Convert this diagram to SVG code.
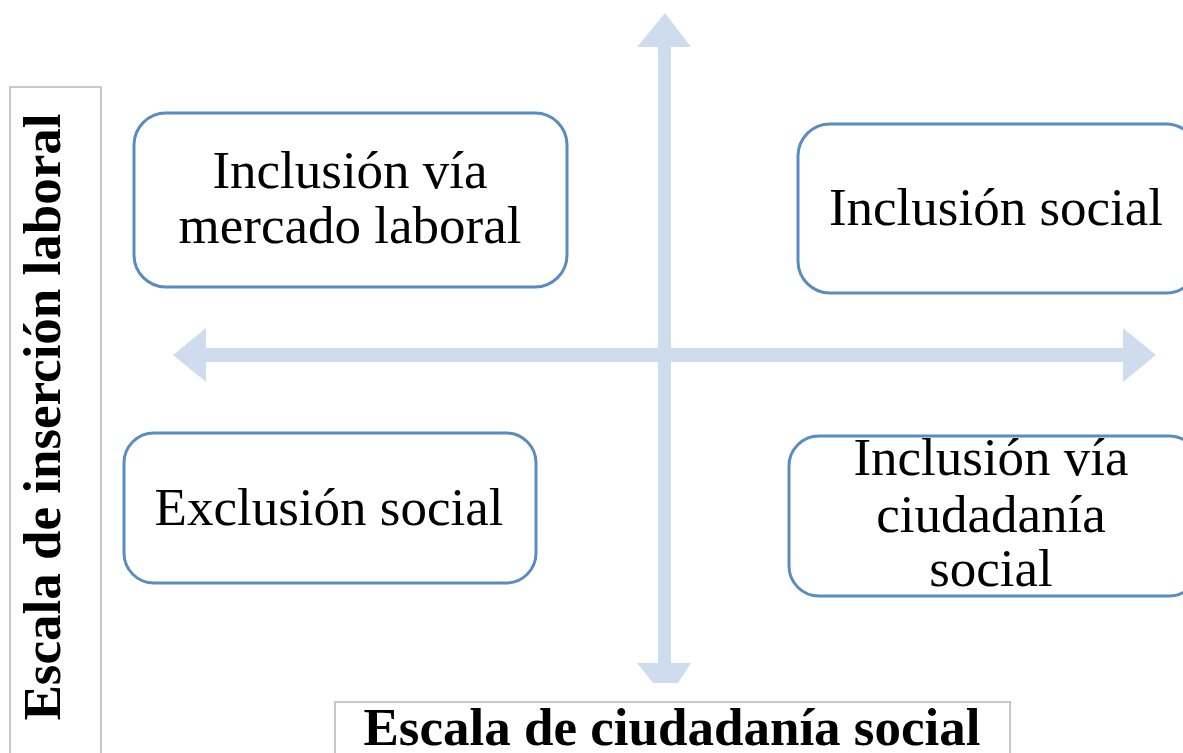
<svg xmlns="http://www.w3.org/2000/svg" width="1183" height="753" viewBox="0 0 1183 753">
<style>
.box{fill:#fff;stroke:#5a8cc4;stroke-width:3}
.lbl{fill:#fff;stroke:#c8c8c8;stroke-width:2}
.t{font-family:"Liberation Serif","Times New Roman",serif;font-size:53px;fill:#000;text-anchor:middle}
.b{font-weight:bold}
.arr{fill:#cfdcee}
</style>
<rect width="1183" height="753" fill="#fff"/>
<g id="connectors">
<path class="arr" d="M658,663 L658,47 L637,47 L665,13 L691,47 L671,47 L671,663 L691,663 L678,683 L653,683 L637,663 Z"/>
<path class="arr" d="M206,348 L1123,348 L1123,328 L1156,355 L1123,382 L1123,362 L206,362 L206,382 L173,355 L206,328 Z"/>
</g>
<g id="axis-y">
<rect class="lbl" x="10" y="87" width="91" height="680"/>
<text class="t b" transform="translate(60,417) rotate(-90)">Escala de inserción laboral</text>
</g>
<g id="axis-x">
<rect class="lbl" x="335" y="702" width="675" height="70"/>
<text class="t b" x="672" y="745">Escala de ciudadanía social</text>
</g>
<g id="node-tl">
<rect class="box" x="134" y="113" width="433" height="174" rx="32"/>
<text class="t" x="350" y="188">Inclusión vía</text>
<text class="t" x="350" y="243">mercado laboral</text>
</g>
<g id="node-tr">
<rect class="box" x="798" y="124" width="400" height="169" rx="32"/>
<text class="t" x="996" y="225">Inclusión social</text>
</g>
<g id="node-bl">
<rect class="box" x="124" y="433" width="412" height="150" rx="30"/>
<text class="t" x="329" y="525">Exclusión social</text>
</g>
<g id="node-br">
<rect class="box" x="789" y="436" width="410" height="160" rx="30"/>
<text class="t" x="991" y="475">Inclusión vía</text>
<text class="t" x="991" y="532">ciudadanía</text>
<text class="t" x="991" y="586">social</text>
</g>
</svg>
